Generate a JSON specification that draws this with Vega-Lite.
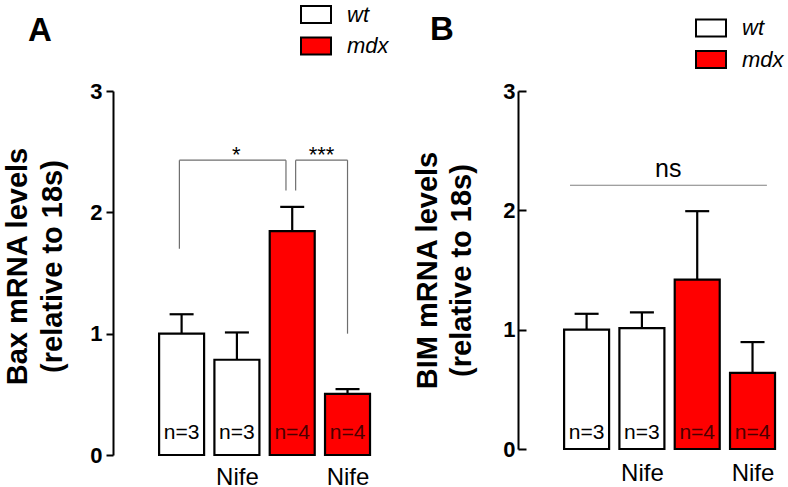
{
  "$schema": "https://vega.github.io/schema/vega-lite/v6.json",
  "background": "white",
  "padding": {"left": 3, "top": 3, "right": 5, "bottom": 5},
  "bounds": "flush",
  "spacing": 124,
  "config": {"view": {"stroke": null}, "font": "Liberation Sans"},
  "resolve": {"scale": {"fill": "independent", "x": "independent", "y": "independent"}, "legend": {"fill": "independent"}},
  "datasets": {
    "bax": [
      {"pos": 1, "group": "wt", "mean": 1.0, "upper": 1.16, "n": "n=3"},
      {"pos": 2, "group": "wt", "mean": 0.785, "upper": 1.01, "n": "n=3"},
      {"pos": 3, "group": "mdx", "mean": 1.845, "upper": 2.045, "n": "n=4"},
      {"pos": 4, "group": "mdx", "mean": 0.504, "upper": 0.543, "n": "n=4"}
    ],
    "bim": [
      {"pos": 1, "group": "wt", "mean": 1.0, "upper": 1.133, "n": "n=3"},
      {"pos": 2, "group": "wt", "mean": 1.013, "upper": 1.145, "n": "n=3"},
      {"pos": 3, "group": "mdx", "mean": 1.419, "upper": 1.993, "n": "n=4"},
      {"pos": 4, "group": "mdx", "mean": 0.638, "upper": 0.896, "n": "n=4"}
    ],
    "bracketsA": [
      {"x": 0.96, "x2": 2.887, "y": 2.43, "y2": 2.43},
      {"x": 0.96, "x2": 0.96, "y": 1.7, "y2": 2.43},
      {"x": 2.887, "x2": 2.887, "y": 2.18, "y2": 2.43},
      {"x": 3.062, "x2": 4.0, "y": 2.43, "y2": 2.43},
      {"x": 3.062, "x2": 3.062, "y": 2.18, "y2": 2.43},
      {"x": 4.0, "x2": 4.0, "y": 1.0, "y2": 2.43}
    ],
    "signifA": [
      {"x": 1.99, "y": 2.43, "label": "*"},
      {"x": 3.53, "y": 2.43, "label": "***"}
    ],
    "bracketsB": [
      {"x": 0.7, "x2": 4.26, "y": 2.21, "y2": 2.21}
    ],
    "signifB": [
      {"x": 2.475, "y": 2.21, "label": "ns"}
    ]
  },
  "hconcat": [
    {
      "width": 281,
      "height": 364,
      "title": {"text": "A", "anchor": "start", "frame": "group", "fontSize": 33, "fontWeight": "bold", "color": "black", "font": "Liberation Sans", "dx": -85, "offset": -70, "baseline": "alphabetic"},
      "layer": [
        {
          "data": {"name": "bracketsA"},
          "mark": {"type": "rule", "color": "#6e6e6e", "strokeWidth": 1.2},
          "encoding": {
            "x": {"field": "x", "type": "quantitative", "scale": {"domain": [-0.15, 4.75], "nice": false, "zero": false}},
            "x2": {"field": "x2"},
            "y": {"field": "y", "type": "quantitative", "scale": {"domain": [0, 3], "nice": false}},
            "y2": {"field": "y2"}
          }
        },
        {
          "data": {"name": "signifA"},
          "mark": {"type": "text", "fontSize": 22, "baseline": "alphabetic", "dy": 2, "color": "black"},
          "encoding": {
            "x": {"field": "x", "type": "quantitative"},
            "y": {"field": "y", "type": "quantitative"},
            "text": {"field": "label"}
          }
        },
        {
          "data": {"name": "bax"},
          "mark": {"type": "rule", "color": "black", "strokeWidth": 2.2},
          "encoding": {
            "x": {"field": "pos", "type": "quantitative"},
            "y": {"field": "mean", "type": "quantitative"},
            "y2": {"field": "upper"}
          }
        },
        {
          "data": {"name": "bax"},
          "mark": {"type": "tick", "orient": "horizontal", "size": 24, "thickness": 2.2, "color": "black", "opacity": 1},
          "encoding": {
            "x": {"field": "pos", "type": "quantitative"},
            "y": {"field": "upper", "type": "quantitative"}
          }
        },
        {
          "data": {"name": "bax"},
          "mark": {"type": "bar", "orient": "vertical", "size": 45, "stroke": "black", "strokeWidth": 2.2, "opacity": 1},
          "encoding": {
            "x": {"field": "pos", "type": "quantitative",
              "axis": {"values": [2, 4], "labelExpr": "'Nife'", "domain": false, "ticks": false, "grid": false, "title": null, "labelFontSize": 24, "labelFont": "Liberation Sans", "labelColor": "black", "labelBaseline": "alphabetic", "labelPadding": 29}},
            "y": {"field": "mean", "type": "quantitative",
              "axis": {"values": [0, 1, 2, 3], "format": "d", "grid": false,
                "title": ["Bax mRNA levels", "(relative to 18s)"], "titleFontSize": 29, "titleFontWeight": "bold", "titleColor": "black", "titleFont": "Liberation Sans",
                "titleLineHeight": 35, "titleX": -81, "titleY": 175, "titleBaseline": "bottom", "titleAngle": 270,
                "labelFontSize": 22, "labelFontWeight": "bold", "labelColor": "black", "labelFont": "Liberation Sans", "labelPadding": 4,
                "tickSize": 7, "tickWidth": 2, "tickColor": "black", "domainColor": "black", "domainWidth": 2}},
            "y2": {"datum": 0},
            "fill": {"field": "group", "type": "nominal",
              "scale": {"domain": ["wt", "mdx"], "range": ["white", "#FF0000"]},
              "legend": {"orient": "none", "legendX": 192, "legendY": -87.5, "title": null, "padding": 0,
                "symbolType": "M-1.5,-0.85H1.5V0.85H-1.5Z", "symbolSize": 400, "symbolStrokeColor": "black", "symbolStrokeWidth": 2, "symbolOpacity": 1,
                "labelFontSize": 22, "labelFontStyle": "italic", "labelFont": "Liberation Sans", "labelColor": "black", "labelOffset": 20, "rowPadding": 5.5}}
          }
        },
        {
          "data": {"name": "bax"},
          "mark": {"type": "text", "fontSize": 21, "baseline": "alphabetic", "dy": -16},
          "encoding": {
            "x": {"field": "pos", "type": "quantitative"},
            "y": {"datum": 0, "type": "quantitative"},
            "text": {"field": "n"},
            "color": {"condition": {"test": "datum.group === 'mdx'", "value": "#4a0000"}, "value": "black"}
          }
        }
      ]
    },
    {
      "width": 281,
      "height": 358,
      "title": {"text": "B", "anchor": "start", "frame": "group", "fontSize": 33, "fontWeight": "bold", "color": "black", "font": "Liberation Sans", "dx": -88, "offset": -55.5, "baseline": "alphabetic"},
      "layer": [
        {
          "data": {"name": "bracketsB"},
          "mark": {"type": "rule", "color": "#808080", "strokeWidth": 1.2},
          "encoding": {
            "x": {"field": "x", "type": "quantitative", "scale": {"domain": [-0.15, 4.75], "nice": false, "zero": false}},
            "x2": {"field": "x2"},
            "y": {"field": "y", "type": "quantitative", "scale": {"domain": [0, 3], "nice": false}},
            "y2": {"field": "y2"}
          }
        },
        {
          "data": {"name": "signifB"},
          "mark": {"type": "text", "fontSize": 25, "baseline": "alphabetic", "dy": -8, "color": "black"},
          "encoding": {
            "x": {"field": "x", "type": "quantitative"},
            "y": {"field": "y", "type": "quantitative"},
            "text": {"field": "label"}
          }
        },
        {
          "data": {"name": "bim"},
          "mark": {"type": "rule", "color": "black", "strokeWidth": 2.2},
          "encoding": {
            "x": {"field": "pos", "type": "quantitative"},
            "y": {"field": "mean", "type": "quantitative"},
            "y2": {"field": "upper"}
          }
        },
        {
          "data": {"name": "bim"},
          "mark": {"type": "tick", "orient": "horizontal", "size": 24, "thickness": 2.2, "color": "black", "opacity": 1},
          "encoding": {
            "x": {"field": "pos", "type": "quantitative"},
            "y": {"field": "upper", "type": "quantitative"}
          }
        },
        {
          "data": {"name": "bim"},
          "mark": {"type": "bar", "orient": "vertical", "size": 45, "stroke": "black", "strokeWidth": 2.2, "opacity": 1},
          "encoding": {
            "x": {"field": "pos", "type": "quantitative",
              "axis": {"values": [2, 4], "labelExpr": "'Nife'", "domain": false, "ticks": false, "grid": false, "title": null, "labelFontSize": 24, "labelFont": "Liberation Sans", "labelColor": "black", "labelBaseline": "alphabetic", "labelPadding": 31}},
            "y": {"field": "mean", "type": "quantitative",
              "axis": {"values": [0, 1, 2, 3], "format": "d", "grid": false,
                "title": ["BIM mRNA levels", "(relative to 18s)"], "titleFontSize": 29, "titleFontWeight": "bold", "titleColor": "black", "titleFont": "Liberation Sans",
                "titleLineHeight": 34, "titleX": -76, "titleY": 179, "titleBaseline": "bottom", "titleAngle": 270,
                "labelFontSize": 22, "labelFontWeight": "bold", "labelColor": "black", "labelFont": "Liberation Sans", "labelPadding": 11,
                "tickSize": -8, "tickWidth": 2, "tickColor": "black", "domainColor": "black", "domainWidth": 2}},
            "y2": {"datum": 0},
            "fill": {"field": "group", "type": "nominal",
              "scale": {"domain": ["wt", "mdx"], "range": ["white", "#FF0000"]},
              "legend": {"orient": "none", "legendX": 182, "legendY": -74, "title": null, "padding": 0,
                "symbolType": "M-1.5,-0.85H1.5V0.85H-1.5Z", "symbolSize": 400, "symbolStrokeColor": "black", "symbolStrokeWidth": 2, "symbolOpacity": 1,
                "labelFontSize": 22, "labelFontStyle": "italic", "labelFont": "Liberation Sans", "labelColor": "black", "labelOffset": 20, "rowPadding": 5.5}}
          }
        },
        {
          "data": {"name": "bim"},
          "mark": {"type": "text", "fontSize": 21, "baseline": "alphabetic", "dy": -10},
          "encoding": {
            "x": {"field": "pos", "type": "quantitative"},
            "y": {"datum": 0, "type": "quantitative"},
            "text": {"field": "n"},
            "color": {"condition": {"test": "datum.group === 'mdx'", "value": "#4a0000"}, "value": "black"}
          }
        }
      ]
    }
  ]
}
